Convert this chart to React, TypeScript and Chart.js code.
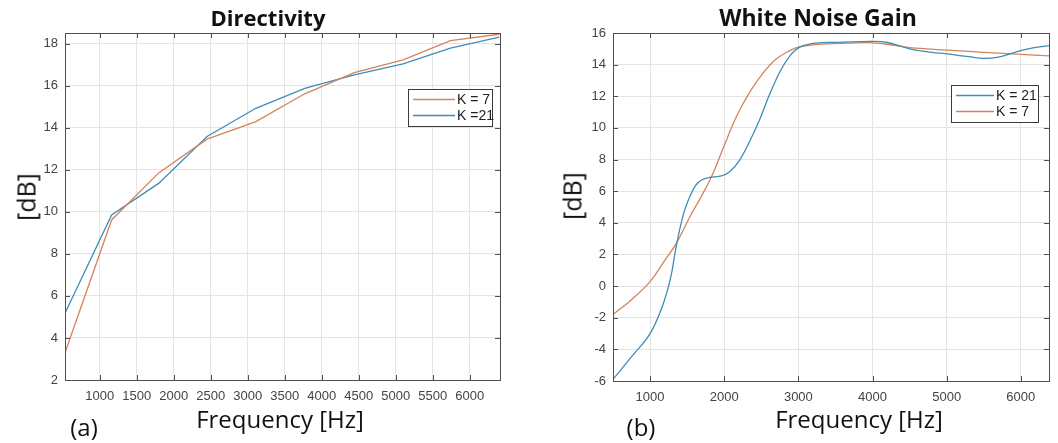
import React, { useEffect, useRef } from "react";
import { Chart, registerables } from "chart.js";

Chart.register(...registerables);

// ---------- Data ----------
// (a) Directivity
const dirFreq = [530, 1160, 1800, 2450, 3110, 3770, 4440, 5100, 5740, 6400];
const dirK7 = [3.3, 9.61, 11.86, 13.45, 14.29, 15.61, 16.62, 17.22, 18.14, 18.44];
const dirK21 = [5.17, 9.85, 11.36, 13.58, 14.92, 15.87, 16.51, 17.03, 17.78, 18.3];
const dirXTicks = [1000, 1500, 2000, 2500, 3000, 3500, 4000, 4500, 5000, 5500, 6000];
const dirYTicks = [2, 4, 6, 8, 10, 12, 14, 16, 18];

// (b) White Noise Gain
const wngK21Freq = [500, 742, 1000, 1164, 1276, 1356, 1453, 1540, 1620, 1700, 1805, 1962, 2074, 2208, 2342, 2477, 2611, 2745, 2879, 3013, 3237, 3550, 4000, 4200, 4500, 4800, 5000, 5300, 5500, 5700, 5900, 6100, 6380];
const wngK21 = [-5.9, -4.51, -3.0, -1.3, 0.5, 2.6, 4.6, 5.7, 6.4, 6.72, 6.87, 6.96, 7.23, 7.97, 9.14, 10.52, 12.11, 13.49, 14.51, 15.09, 15.36, 15.41, 15.47, 15.4, 15.0, 14.78, 14.68, 14.5, 14.4, 14.48, 14.75, 15.0, 15.2];
const wngK7Freq = [500, 742, 1000, 1187, 1356, 1542, 1671, 1828, 1984, 2163, 2342, 2521, 2700, 2879, 3013, 3327, 3700, 4000, 4300, 4500, 5000, 5500, 6000, 6380];
const wngK7 = [-1.8, -0.89, 0.28, 1.55, 2.72, 4.43, 5.5, 6.91, 8.7, 10.7, 12.25, 13.45, 14.35, 14.87, 15.12, 15.3, 15.36, 15.38, 15.22, 15.07, 14.92, 14.78, 14.65, 14.55];
const wngXTicks = [1000, 2000, 3000, 4000, 5000, 6000];
const wngYTicks = [-6, -4, -2, 0, 2, 4, 6, 8, 10, 12, 14, 16];

const BLUE = "#3f8db6";
const ORANGE = "#d3845c";
const FRAME = "#4f4f4f";
const GRID = "#e4e4e4";
const TICK_TEXT = "#444444";

const pts = (xs: number[], ys: number[]) => xs.map((x, i) => ({ x, y: ys[i] }));

// ---------- Plugins ----------
const framePlugin = {
  id: "matlabFrame",
  afterDatasetsDraw(chart: any) {
    const { ctx, chartArea: a, scales } = chart;
    ctx.save();
    ctx.strokeStyle = FRAME;
    ctx.lineWidth = 1;
    const tl = 5;
    ctx.beginPath();
    for (const t of scales.x.ticks) {
      const p = Math.round(scales.x.getPixelForValue(t.value)) + 0.5;
      if (p <= a.left + 1 || p >= a.right - 1) continue;
      ctx.moveTo(p, a.bottom);
      ctx.lineTo(p, a.bottom - tl);
      ctx.moveTo(p, a.top);
      ctx.lineTo(p, a.top + tl);
    }
    for (const t of scales.y.ticks) {
      const p = Math.round(scales.y.getPixelForValue(t.value)) + 0.5;
      if (p <= a.top + 1 || p >= a.bottom - 1) continue;
      ctx.moveTo(a.left, p);
      ctx.lineTo(a.left + tl, p);
      ctx.moveTo(a.right, p);
      ctx.lineTo(a.right - tl, p);
    }
    ctx.stroke();
    ctx.strokeRect(Math.round(a.left) + 0.5, Math.round(a.top) + 0.5, Math.round(a.right - a.left), Math.round(a.bottom - a.top));
    ctx.restore();
  },
};

const legendPlugin = {
  id: "boxLegend",
  afterDraw(chart: any, _args: any, opts: any) {
    const { ctx } = chart;
    const { x, y, w, h, order, lineLen, rowGap } = opts;
    ctx.save();
    ctx.fillStyle = "#ffffff";
    ctx.fillRect(x, y, w, h);
    ctx.strokeStyle = "#3a3a3a";
    ctx.lineWidth = 1;
    ctx.strokeRect(x + 0.5, y + 0.5, w, h);
    ctx.font = "14px 'Liberation Sans', Arial, sans-serif";
    ctx.textBaseline = "middle";
    ctx.fillStyle = "#222222";
    order.forEach((di: number, i: number) => {
      const ds = chart.data.datasets[di];
      const cy = y + h / 2 + (i - (order.length - 1) / 2) * rowGap;
      ctx.strokeStyle = ds.borderColor;
      ctx.lineWidth = 1.3;
      ctx.beginPath();
      ctx.moveTo(x + 5, cy);
      ctx.lineTo(x + 5 + lineLen, cy);
      ctx.stroke();
      ctx.fillText(ds.label, x + 7 + lineLen, cy + 0.5);
    });
    ctx.restore();
  },
};

// ---------- Chart config ----------
type Cfg = {
  canvasW: number;
  canvasH: number;
  plotLeft: number;
  plotRight: number;
  plotTop: number;
  plotBottom: number;
  xMin: number;
  xMax: number;
  yMin: number;
  yMax: number;
  xTicks: number[];
  yTicks: number[];
  datasets: any[];
  legend: any;
  smooth: boolean;
};

function makeConfig(c: Cfg): any {
  return {
    type: "line",
    data: { datasets: c.datasets },
    plugins: [framePlugin, legendPlugin],
    options: {
      responsive: false,
      animation: false,
      layout: { padding: { left: 0, top: c.plotTop, right: c.canvasW - c.plotRight, bottom: 0 } },
      elements: {
        point: { radius: 0 },
        line: { tension: c.smooth ? 0.4 : 0 },
      },
      plugins: {
        legend: { display: false },
        title: { display: false },
        tooltip: { enabled: false },
        boxLegend: c.legend,
      },
      scales: {
        x: {
          type: "linear",
          min: c.xMin,
          max: c.xMax,
          afterBuildTicks: (s: any) => {
            s.ticks = c.xTicks.map((v) => ({ value: v }));
          },
          afterFit: (s: any) => {
            s.height = c.canvasH - c.plotBottom;
          },
          grid: { color: GRID, drawTicks: false, lineWidth: 1 },
          border: { display: false },
          ticks: {
            padding: 9,
            color: TICK_TEXT,
            font: { family: "'Liberation Sans', Arial, sans-serif", size: 13 },
            maxRotation: 0,
            autoSkip: false,
            callback: (v: any) => String(v),
          },
        },
        y: {
          type: "linear",
          min: c.yMin,
          max: c.yMax,
          afterBuildTicks: (s: any) => {
            s.ticks = c.yTicks.map((v) => ({ value: v }));
          },
          afterFit: (s: any) => {
            s.width = c.plotLeft;
          },
          grid: { color: GRID, drawTicks: false, lineWidth: 1 },
          border: { display: false },
          ticks: {
            padding: 7,
            color: TICK_TEXT,
            font: { family: "'Liberation Sans', Arial, sans-serif", size: 13 },
            autoSkip: false,
            callback: (v: any) => String(v),
          },
        },
      },
    },
  };
}

function ChartCanvas({ left, width, height, cfg }: { left: number; width: number; height: number; cfg: Cfg }) {
  const ref = useRef<HTMLCanvasElement>(null);
  useEffect(() => {
    const chart = new Chart(ref.current as HTMLCanvasElement, makeConfig(cfg));
    return () => chart.destroy();
  }, []);
  return (
    <canvas
      ref={ref}
      width={width}
      height={height}
      style={{ position: "absolute", left, top: 0, width, height }}
    />
  );
}

const labelFont = "'Open Sans', 'Liberation Sans', sans-serif";

function Label({ x, y, text, size, bold, rotate }: { x: number; y: number; text: string; size: number; bold?: boolean; rotate?: boolean }) {
  return (
    <div
      style={{
        position: "absolute",
        left: x,
        top: y,
        transform: `translate(-50%, -50%)${rotate ? " rotate(-90deg)" : ""}`,
        fontFamily: labelFont,
        fontSize: size,
        fontWeight: bold ? 700 : 400,
        color: "#111",
        whiteSpace: "nowrap",
        lineHeight: 1,
      }}
    >
      {text}
    </div>
  );
}

export default function App() {
  const leftCfg: Cfg = {
    canvasW: 530,
    canvasH: 443,
    plotLeft: 65,
    plotRight: 500,
    plotTop: 33,
    plotBottom: 380,
    xMin: 530,
    xMax: 6410,
    yMin: 2,
    yMax: 18.5,
    xTicks: dirXTicks,
    yTicks: dirYTicks,
    smooth: false,
    datasets: [
      { label: "K = 7", data: pts(dirFreq, dirK7), borderColor: ORANGE, borderWidth: 1.3, fill: false },
      { label: "K =21", data: pts(dirFreq, dirK21), borderColor: BLUE, borderWidth: 1.3, fill: false },
    ],
    legend: { x: 408, y: 89, w: 84, h: 37, order: [0, 1], lineLen: 42, rowGap: 16 },
  };
  const rightCfg: Cfg = {
    canvasW: 528,
    canvasH: 443,
    plotLeft: 83,
    plotRight: 519,
    plotTop: 33,
    plotBottom: 381,
    xMin: 500,
    xMax: 6380,
    yMin: -6,
    yMax: 16,
    xTicks: wngXTicks,
    yTicks: wngYTicks,
    smooth: true,
    datasets: [
      { label: "K = 21", data: pts(wngK21Freq, wngK21), borderColor: BLUE, borderWidth: 1.3, fill: false },
      { label: "K = 7", data: pts(wngK7Freq, wngK7), borderColor: ORANGE, borderWidth: 1.3, fill: false },
    ],
    legend: { x: 421, y: 85, w: 87, h: 37, order: [0, 1], lineLen: 38, rowGap: 16 },
  };

  return (
    <div style={{ position: "absolute", left: 0, top: 0, width: 1058, height: 443, background: "#fff", overflow: "hidden" }}>
      <ChartCanvas left={0} width={530} height={443} cfg={leftCfg} />
      <ChartCanvas left={530} width={528} height={443} cfg={rightCfg} />
      <Label x={268} y={17} text="Directivity" size={22} bold />
      <Label x={818} y={17} text="White Noise Gain" size={23} bold />
      <Label x={26} y={197} text="[dB]" size={25} rotate />
      <Label x={572} y={196} text="[dB]" size={25} rotate />
      <Label x={280} y={419} text="Frequency [Hz]" size={24} />
      <Label x={859} y={419} text="Frequency [Hz]" size={24} />
      <Label x={84} y={427} text="(a)" size={24} />
      <Label x={641} y={427} text="(b)" size={24} />
    </div>
  );
}
